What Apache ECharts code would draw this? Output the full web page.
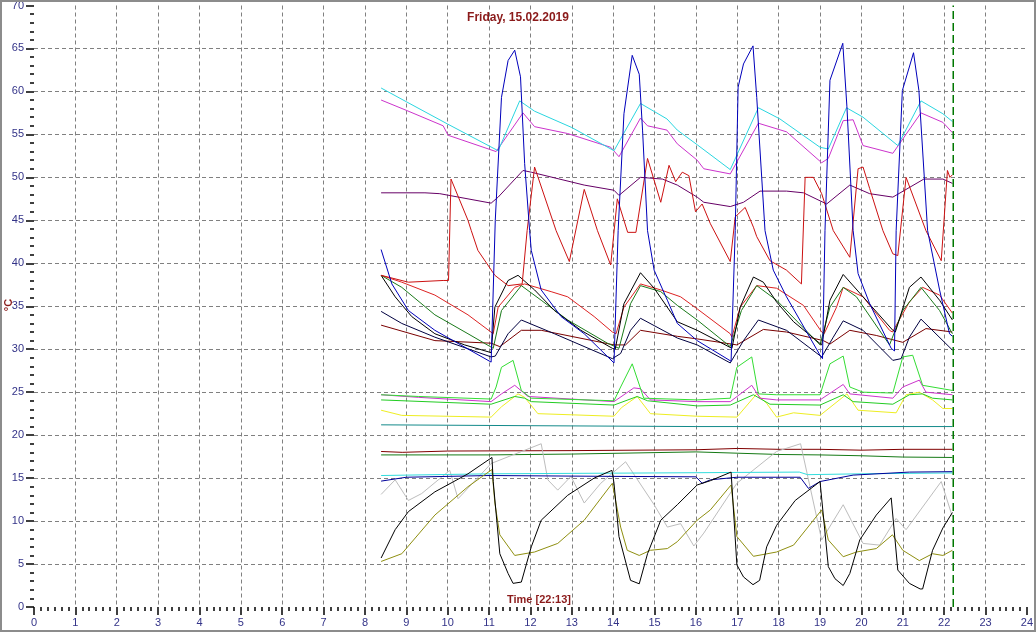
<!DOCTYPE html>
<html><head><meta charset="utf-8">
<script src="https://cdn.jsdelivr.net/npm/echarts@6/dist/echarts.min.js"></script>
<style>html,body{margin:0;padding:0;background:#fff}#c{width:1036px;height:632px}</style>
</head><body><div id="c"></div>
<script>
const titleText = 'Friday, 15.02.2019';
const timeText = 'Time [22:13]';
const unitText = '°C';
const nowHour = 22.22;

const cyanTop = [[8.39,60.4],[9.0,58.8],[10.0,56.2],[11.22,53.1],[11.74,58.9],[12.1,57.7],[13.0,55.8],[14.02,53.1],[14.66,58.6],[15.3,56.8],[15.55,55.5],[16.03,53.8],[16.83,50.9],[17.51,58.1],[18.03,56.8],[19.0,53.5],[19.2,53.3],[19.64,58.1],[20.04,57.0],[20.88,53.7],[21.44,58.9],[21.97,57.4],[22.2,56.5]];
const magentaTop = [[8.39,59.0],[9.0,57.8],[9.89,56.0],[10.01,54.9],[11.17,53.0],[11.82,57.5],[12.1,55.9],[12.9,55.1],[13.94,53.5],[14.14,52.4],[14.66,56.9],[14.83,56.0],[15.3,55.5],[15.55,53.9],[16.03,52.0],[16.19,51.0],[16.83,50.4],[17.51,56.3],[18.19,55.3],[19.04,51.7],[19.2,52.2],[19.56,56.6],[19.8,56.7],[20.04,53.7],[20.76,52.8],[21.44,57.5],[21.97,56.4],[22.2,55.2]];
const blueSpike = [[8.39,41.6],[8.65,37.6],[9.05,34.5],[9.69,32.2],[11.05,28.5],[11.15,45],[11.3,59.3],[11.46,63.6],[11.62,64.8],[11.76,61.7],[11.86,51.6],[11.98,43.8],[12.02,41.5],[12.26,36.9],[12.74,33.8],[13.3,31.8],[14.02,28.4],[14.12,43.8],[14.26,57.4],[14.46,64.2],[14.63,62.0],[14.71,55.5],[14.83,43.8],[14.99,39.2],[15.31,35.7],[15.55,33.0],[16.03,31.0],[16.85,28.6],[16.95,43.8],[17.02,60.5],[17.15,63.2],[17.38,65.3],[17.47,59.3],[17.67,43.8],[17.87,39.2],[18.19,36.1],[19.0,29.3],[19.06,28.9],[19.12,43.8],[19.24,61.3],[19.55,65.6],[19.65,58.2],[19.8,43.8],[19.92,38.8],[20.2,35.3],[20.72,30.1],[20.8,29.8],[20.84,43.8],[20.99,60.1],[21.26,64.5],[21.39,60.1],[21.6,43.8],[21.89,36.9],[22.13,31.8],[22.2,31.5]];
const redSaw = [[8.39,38.6],[9.05,37.8],[9.89,38.0],[10.02,38.0],[10.08,49.8],[10.49,45.0],[10.57,43.8],[10.73,41.5],[11.14,38.6],[11.46,37.4],[11.8,37.6],[11.92,43.8],[12.1,51.2],[12.62,43.8],[12.94,40.2],[13.3,48.6],[13.62,43.8],[13.94,39.8],[14.1,47.5],[14.35,43.6],[14.55,43.6],[14.83,52.2],[15.15,47.1],[15.35,51.4],[15.51,49.5],[15.67,50.6],[15.83,50.2],[15.99,46.0],[16.15,46.9],[16.35,44.6],[16.83,40.2],[16.95,45.4],[17.19,46.5],[17.39,44.2],[17.47,43.1],[17.79,40.3],[18.19,39.2],[18.55,37.6],[18.64,50.0],[18.84,50.0],[19.04,48.1],[19.32,43.8],[19.72,40.7],[19.92,51.0],[20.04,51.2],[20.2,48.7],[20.52,43.8],[20.76,41.1],[20.88,40.9],[21.08,50.0],[21.56,43.8],[21.93,40.3],[22.08,50.8],[22.14,50.0],[22.2,50.3]];
const purple = [[8.39,48.2],[9.45,48.2],[9.81,48.1],[11.05,47.0],[11.22,47.7],[11.82,50.8],[12.02,50.6],[13.3,49.1],[14.02,48.5],[14.14,47.9],[14.66,50.0],[15.19,49.8],[15.55,49.1],[16.03,47.7],[16.19,47.1],[16.83,46.6],[17.15,47.1],[17.55,48.4],[18.19,48.4],[18.6,48.2],[19.16,46.9],[19.72,49.1],[20.2,48.1],[20.76,47.7],[21.51,49.8],[21.97,49.8],[22.2,49.3]];
const blackUp = [[8.39,38.6],[8.73,36.1],[9.13,33.8],[9.69,31.8],[10.41,30.5],[11.05,29.6],[11.14,34.9],[11.46,38.0],[11.7,38.6],[12.1,36.9],[12.58,34.5],[13.22,32.2],[13.98,30.1],[14.05,30.0],[14.26,35.3],[14.66,38.9],[14.99,37.1],[15.55,33.2],[16.03,32.2],[16.87,30.1],[17.07,34.9],[17.39,38.4],[17.63,37.8],[17.95,35.5],[18.36,33.2],[19.04,30.5],[19.24,35.7],[19.56,38.7],[20.04,36.1],[20.76,32.2],[20.82,32.0],[21.16,37.2],[21.44,38.4],[21.89,35.7],[22.2,33.4]];
const darkGreen = [[8.39,38.6],[8.89,37.2],[9.69,34.0],[10.49,31.8],[11.1,30.1],[11.3,34.5],[11.78,37.4],[12.26,35.7],[12.9,33.4],[13.86,30.7],[14.14,30.1],[14.42,35.3],[14.66,37.4],[15.15,36.7],[15.55,35.1],[16.03,33.4],[16.83,30.3],[17.1,34.5],[17.47,37.4],[17.95,35.7],[19.0,30.5],[19.24,34.9],[19.56,37.2],[19.88,36.1],[20.68,30.5],[21.0,34.5],[21.44,37.2],[21.89,34.5],[22.2,31.8]];
const smoothRed = [[8.39,38.6],[8.89,37.8],[9.69,36.3],[10.49,34.0],[11.1,31.8],[11.22,34.9],[11.62,37.2],[11.86,37.6],[12.5,36.7],[12.9,36.1],[13.54,33.8],[13.98,32.0],[14.07,31.8],[14.26,34.9],[14.66,37.6],[15.15,36.9],[15.63,36.1],[16.03,34.7],[16.83,31.8],[16.87,31.4],[17.07,34.9],[17.47,37.4],[17.95,37.1],[18.6,35.1],[19.04,32.0],[19.1,31.8],[19.4,34.9],[19.56,37.2],[20.04,36.1],[20.68,32.2],[20.75,32.0],[21.16,35.5],[21.48,37.2],[21.89,36.3],[22.2,34.2]];
const brown = [[8.39,32.8],[9.69,31.0],[11.05,30.7],[11.26,30.3],[11.78,32.2],[12.26,32.2],[14.02,30.5],[14.3,30.5],[14.66,32.2],[15.55,31.5],[16.03,31.2],[16.99,30.5],[17.63,32.3],[18.19,32.0],[19.08,31.0],[19.24,30.6],[19.72,32.2],[20.36,31.6],[21.0,30.8],[21.56,32.4],[22.2,32.0]];
const navy = [[8.39,34.4],[8.89,33.0],[9.69,31.4],[11.05,29.1],[11.15,29.2],[11.46,31.8],[11.78,33.4],[12.58,31.8],[13.98,28.9],[14.18,29.5],[14.42,32.2],[14.66,33.6],[15.55,31.3],[16.03,30.5],[16.83,28.4],[17.15,31.0],[17.51,33.4],[18.19,32.2],[19.04,29.1],[19.32,31.4],[19.56,33.3],[20.04,32.2],[20.76,28.7],[20.96,28.9],[21.16,31.4],[21.44,33.5],[22.2,29.9]];
const greenTop = [[8.39,24.7],[9.29,24.5],[11.05,24.2],[11.17,25.6],[11.3,27.9],[11.58,28.7],[11.78,25.2],[12.02,24.3],[14.02,24.0],[14.18,25.6],[14.46,28.3],[14.74,24.3],[16.03,24.1],[16.83,24.3],[16.99,27.9],[17.35,29.1],[17.51,24.8],[17.95,24.7],[19.0,24.7],[19.24,28.3],[19.56,29.2],[19.72,25.6],[20.04,25.0],[20.76,24.9],[21.0,29.1],[21.24,29.3],[21.48,25.8],[22.2,25.2]];
const magentaLow = [[8.39,24.7],[9.29,24.4],[11.05,23.9],[11.3,24.8],[11.62,25.8],[11.94,24.5],[14.02,23.9],[14.5,25.5],[14.66,25.4],[14.9,24.1],[16.03,23.9],[16.83,23.9],[17.35,25.8],[17.55,24.3],[17.95,24.1],[19.0,24.1],[19.56,25.9],[19.72,24.8],[20.76,24.3],[21.0,25.6],[21.4,26.4],[21.56,25.0],[22.2,24.7]];
const greenLow = [[8.39,24.1],[11.05,23.6],[11.62,24.5],[11.86,24.3],[12.02,23.9],[14.02,23.5],[14.58,24.5],[14.83,24.0],[16.03,23.4],[16.83,23.5],[17.39,24.7],[17.79,23.6],[19.0,23.5],[19.56,24.7],[19.8,23.9],[20.76,23.6],[21.16,24.7],[21.48,24.8],[21.72,24.3],[22.2,24.1]];
const yellow = [[8.39,22.9],[8.89,22.3],[11.05,22.1],[11.3,23.3],[11.7,24.8],[11.86,24.4],[12.18,22.5],[14.02,22.2],[14.2,23.2],[14.58,24.5],[14.9,22.5],[16.03,22.2],[16.99,22.1],[17.47,24.8],[17.71,23.7],[17.95,22.1],[18.36,22.6],[19.0,22.3],[19.65,24.8],[19.92,22.9],[20.84,22.6],[21.08,24.7],[21.4,25.0],[21.72,24.1],[21.97,23.1],[22.2,23.1]];
const teal = [[8.39,21.2],[12.0,21.1],[16.0,21.0],[19.0,21.0],[22.2,21.0]];
const darkRedFlat = [[8.39,18.1],[8.9,18.0],[10.0,18.15],[13.0,18.2],[16.0,18.3],[17.0,18.45],[18.0,18.35],[19.0,18.35],[20.0,18.25],[21.0,18.35],[22.2,18.35]];
const greenFlat = [[8.39,17.7],[11.0,17.7],[13.0,17.8],[16.0,18.05],[17.0,17.9],[18.0,17.75],[19.0,17.7],[20.0,17.6],[21.0,17.45],[22.2,17.4]];
const gray = [[8.39,13.1],[8.73,14.8],[9.05,12.4],[9.37,13.2],[10.05,15.9],[10.25,12.6],[11.05,16.7],[12.26,19.0],[12.42,14.8],[12.66,13.6],[12.98,15.2],[13.3,12.1],[13.7,14.4],[14.3,16.9],[14.99,11.9],[15.31,9.3],[15.63,9.7],[15.95,7.1],[16.19,8.6],[16.99,14.4],[17.95,18.1],[18.53,19.0],[19.04,7.8],[19.56,11.9],[20.04,7.4],[20.44,7.2],[20.84,10.3],[21.08,9.0],[21.93,14.6],[22.2,10.5]];
const cyanLow = [[8.39,15.3],[11.0,15.5],[15.0,15.6],[18.5,15.7],[18.7,15.4],[20.0,15.5],[22.2,15.6]];
const blueLow = [[8.39,14.65],[9.0,15.1],[11.0,15.3],[14.0,15.2],[16.0,15.15],[16.15,14.4],[16.35,14.8],[16.99,15.1],[18.52,15.1],[18.72,13.8],[19.0,14.6],[19.8,15.35],[21.16,15.7],[22.2,15.75]];
const blackLow = [[8.39,5.7],[8.73,9.0],[9.05,11.1],[9.69,13.4],[10.49,15.5],[11.07,17.4],[11.1,14.6],[11.26,6.2],[11.46,3.9],[11.58,2.75],[11.78,2.9],[12.02,7.0],[12.26,10.1],[12.9,13.0],[13.54,15.0],[13.97,15.9],[14.02,14.4],[14.14,8.2],[14.42,3.1],[14.63,2.7],[14.83,6.2],[15.15,10.1],[15.55,11.9],[16.03,14.2],[16.35,14.7],[16.85,15.7],[16.99,4.9],[17.15,3.5],[17.38,2.6],[17.54,3.1],[17.71,7.0],[17.95,9.5],[18.4,12.4],[19.0,14.6],[19.04,14.8],[19.2,4.7],[19.36,3.3],[19.56,2.5],[19.72,3.9],[19.96,7.8],[20.36,10.7],[20.72,12.7],[20.88,4.3],[21.16,2.75],[21.42,2.1],[21.48,2.1],[21.72,6.6],[21.97,9.2],[22.2,11.0]];
const olive = [[8.39,5.3],[8.89,6.2],[9.69,10.7],[10.49,14.0],[11.07,16.0],[11.14,12.1],[11.26,8.4],[11.62,6.0],[12.1,6.4],[12.66,7.4],[13.3,10.1],[13.98,14.4],[14.18,9.3],[14.34,6.6],[14.63,6.0],[14.9,6.6],[15.31,6.8],[15.55,7.6],[16.03,10.1],[16.35,11.3],[16.85,14.2],[16.99,8.2],[17.39,5.9],[17.95,6.4],[18.36,7.2],[19.04,11.3],[19.2,7.8],[19.56,5.85],[19.88,6.4],[20.36,6.8],[20.75,8.4],[21.0,6.6],[21.4,5.4],[21.72,6.2],[21.97,6.0],[22.2,6.6]];

const seriesList = [
  ['teal', teal, '#138a8a'],
  ['darkRedFlat', darkRedFlat, '#800000'],
  ['greenFlat', greenFlat, '#157a15'],
  ['gray', gray, '#bdbdbd'],
  ['cyanLow', cyanLow, '#33dddd'],
  ['blueLow', blueLow, '#000099'],
  ['olive', olive, '#8f8f10'],
  ['blackLow', blackLow, '#000000'],
  ['yellow', yellow, '#eeee22'],
  ['greenLow', greenLow, '#22cc22'],
  ['magentaLow', magentaLow, '#cc33cc'],
  ['greenTop', greenTop, '#33dd33'],
  ['brown', brown, '#7a0000'],
  ['navy', navy, '#000040'],
  ['smoothRed', smoothRed, '#dd2222'],
  ['darkGreen', darkGreen, '#1a7a1a'],
  ['blackUp', blackUp, '#000000'],
  ['purple', purple, '#660066'],
  ['redSaw', redSaw, '#cc1111'],
  ['magentaTop', magentaTop, '#cc33cc'],
  ['cyanTop', cyanTop, '#2ad6e0'],
  ['blueSpike', blueSpike, '#0000bb']
];

const chart = echarts.init(document.getElementById('c'), null, {renderer:'canvas'});
const series = seriesList.map(([n, d, c]) => ({
  name: n, type: 'line', data: d, showSymbol: false, symbol: 'none',
  lineStyle: {color: c, width: 1}, itemStyle: {color: c}, animation: false, z: 3
}));
series.push({
  name: 'now', type: 'line', data: [[nowHour, 0], [nowHour, 70]], symbol: 'none',
  lineStyle: {color: '#007700', width: 1.5, type: [8, 4]}, animation: false, z: 4
});

const labelColor = '#333388';
chart.setOption({
  animation: false,
  backgroundColor: '#ffffff',
  grid: {left: 34, right: 5, top: 5, bottom: 25, containLabel: false},
  xAxis: {
    type: 'value', min: 0, max: 24, interval: 1,
    axisLine: {show: false},
    axisTick: {show: true, length: 8, lineStyle: {color: '#000', width: 1.5}},
    minorTick: {show: true, splitNumber: 6, length: 4, lineStyle: {color: '#000', width: 1.5}},
    axisLabel: {color: labelColor, fontSize: 11, margin: 10, fontFamily: 'Liberation Sans, Arial'},
    splitLine: {show: true, showMinLine: false, showMaxLine: false, lineStyle: {color: '#808080', type: [4, 3], width: 1}}
  },
  yAxis: {
    type: 'value', min: 0, max: 70, interval: 5,
    axisLine: {show: false},
    axisTick: {show: true, length: 8, lineStyle: {color: '#000', width: 1.5}},
    minorTick: {show: true, splitNumber: 5, length: 4, lineStyle: {color: '#000', width: 1.5}},
    axisLabel: {color: labelColor, fontSize: 11, margin: 10, fontFamily: 'Liberation Sans, Arial'},
    splitLine: {show: true, showMinLine: false, showMaxLine: false, lineStyle: {color: '#808080', type: [4, 3], width: 1}}
  },
  graphic: [
    {type: 'rect', shape: {x: 1, y: 1, width: 1034, height: 630}, style: {fill: 'none', stroke: '#8c8c8c', lineWidth: 2}, z: 10, silent: true},
    {type: 'text', x: 518, y: 18, style: {text: titleText, fill: '#8b1a1a', font: 'bold 12px "Liberation Sans", Arial', align: 'center', verticalAlign: 'middle'}, z: 10},
    {type: 'text', x: 539, y: 600, style: {text: timeText, fill: '#8b1a1a', font: 'bold 11px "Liberation Sans", Arial', align: 'center', verticalAlign: 'middle'}, z: 10},
    {type: 'text', x: 9, y: 305, rotation: Math.PI / 2, style: {text: unitText, fill: '#8b1a1a', font: 'bold 11px "Liberation Sans", Arial', align: 'center', verticalAlign: 'middle'}, z: 10}
  ],
  series: series
});
</script></body></html>
